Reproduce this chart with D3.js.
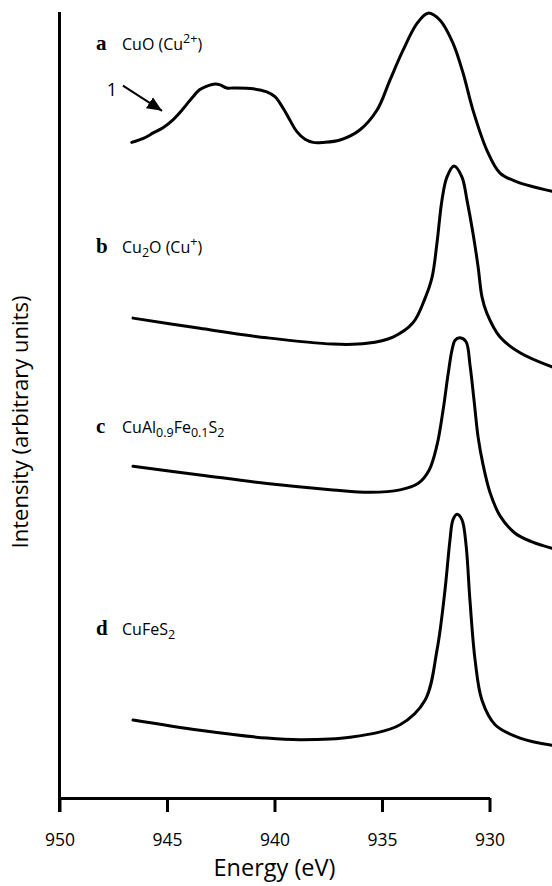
<!DOCTYPE html>
<html>
<head>
<meta charset="utf-8">
<script src="https://cdn.jsdelivr.net/npm/d3@7"></script>
<style>
body { margin: 0; background: #fff; }
text { font-family: "Open Sans", sans-serif; fill: #000; }
.tag { font-family: "Liberation Serif", serif; font-weight: bold; }
.spectrum { fill: none; stroke: #000; stroke-width: 3; stroke-linejoin: round; stroke-linecap: round; }
</style>
</head>
<body>
<svg id="chart" width="552" height="886"></svg>
<script>
// x axis ticks (binding energy, eV)
const energyTicks = [950, 945, 940, 935, 930];

// spectra: [energy (eV), intensity (arb. units, stacked)]
const cuO = [
    [946.64, 83.2], [946.1, 83.7], [945.64, 84.4], [945.17, 85.1], [944.71, 86.1],
    [944.24, 87.5], [943.85, 88.8], [943.47, 89.9], [943.08, 90.4], [942.77, 90.6],
    [942.53, 90.5], [942.22, 90.1], [941.92, 90.1], [940.99, 90.0], [940.36, 89.6],
    [939.98, 89.0], [939.59, 87.5], [939.28, 86.0], [938.97, 84.6], [938.58, 83.6],
    [938.2, 83.2], [937.73, 83.2], [936.95, 83.5], [936.02, 84.8], [935.23, 87.3],
    [934.63, 91.1], [934.02, 94.9], [933.37, 98.3], [932.86, 99.6], [932.3, 98.7],
    [931.7, 95.8], [931.23, 92.0], [930.77, 87.3], [930.12, 82.2], [929.51, 79.3],
    [928.72, 78.2], [927.09, 77.0]
];
const cu2O = [
    [946.58, 60.9], [943.47, 59.6], [940.35, 58.4], [937.28, 57.6], [935.7, 57.7],
    [934.49, 58.5], [933.56, 60.3], [933.0, 63.4], [932.67, 66.1], [932.44, 70.5],
    [932.21, 75.9], [931.98, 78.8], [931.65, 80.2], [931.28, 78.8], [931.05, 75.9],
    [930.77, 71.7], [930.53, 67.4], [930.35, 63.6], [930.12, 61.5], [929.51, 58.5],
    [928.58, 56.5], [927.09, 54.7]
];
const cuAlFeS2 = [
    [946.58, 42.1], [943.47, 41.0], [940.35, 39.9], [937.28, 39.1], [935.56, 38.8],
    [934.16, 39.1], [933.33, 39.9], [932.81, 41.6], [932.44, 44.8], [932.16, 49.2],
    [931.93, 53.7], [931.74, 56.9], [931.6, 58.1], [931.37, 58.4], [931.09, 57.9],
    [930.91, 55.0], [930.72, 50.5], [930.53, 45.8], [930.3, 42.3], [929.98, 38.8],
    [929.51, 35.8], [928.81, 33.6], [928.02, 32.5], [927.09, 31.7]
];
const cuFeS2 = [
    [946.58, 9.9], [943.47, 8.6], [940.35, 7.6], [938.81, 7.4], [936.49, 7.7],
    [934.16, 9.3], [933.0, 12.4], [932.44, 18.8], [932.07, 26.4], [931.84, 32.7],
    [931.7, 35.3], [931.51, 36.0], [931.28, 35.3], [931.09, 32.1], [930.91, 25.1],
    [930.67, 17.5], [930.35, 12.4], [929.74, 9.3], [928.58, 7.6], [927.09, 6.7]
];

const spectra = [cuO, cu2O, cuAlFeS2, cuFeS2];

// panel letters and compound names (sub = subscript, sup = superscript)
const tags = ['a', 'b', 'c', 'd'];
const names = [
    [{t: 'CuO (Cu'}, {t: '2+', sup: true}, {t: ')'}],
    [{t: 'Cu'}, {t: '2', sub: true}, {t: 'O (Cu'}, {t: '+', sup: true}, {t: ')'}],
    [{t: 'CuAl'}, {t: '0.9', sub: true}, {t: 'Fe'}, {t: '0.1', sub: true}, {t: 'S'}, {t: '2', sub: true}],
    [{t: 'CuFeS'}, {t: '2', sub: true}]
];

// annotation "1" arrow on the CuO satellite
const arrowFrom = [947.05, 90.4];
const arrowTo = [945.23, 87.2];

const svg = d3.select('#chart');

const x = d3.scaleLinear().domain([950, 930]).range([59.5, 489.5]);
const y = d3.scaleLinear().domain([0, 100]).range([798, 10]);

// y axis: bare line, no ticks
svg.append('line')
    .attr('x1', x(950)).attr('x2', x(950))
    .attr('y1', y(100) + 2).attr('y2', y(0) + 14)
    .attr('stroke', '#000').attr('stroke-width', 3);

const xAxis = svg.append('g')
    .attr('transform', 'translate(0,' + y(0) + ')')
    .call(d3.axisBottom(x).tickValues(energyTicks).tickSize(14).tickSizeOuter(0).tickPadding(22));
xAxis.select('.domain').attr('stroke-width', 3);
xAxis.selectAll('.tick line').attr('stroke-width', 3);
xAxis.selectAll('.tick text')
    .style('font-family', '"Open Sans", sans-serif')
    .attr('font-size', 17.5);

svg.append('text')
    .attr('x', (x(950) + x(930)) / 2)
    .attr('y', 876)
    .attr('text-anchor', 'middle')
    .attr('font-size', 23.5)
    .text('Energy (eV)');

svg.append('text')
    .attr('transform', 'translate(28,422)rotate(-90)')
    .attr('text-anchor', 'middle')
    .attr('font-size', 22)
    .text('Intensity (arbitrary units)');

const line = d3.line()
    .x(d => x(d[0]))
    .y(d => y(d[1]))
    .curve(d3.curveCatmullRom.alpha(0.5));

svg.selectAll('.spectrum')
    .data(spectra)
    .enter().append('path')
    .attr('class', 'spectrum')
    .attr('d', line);

// labels
const labelBaselines = [50, 253, 433, 635];

function richText(sel, parts) {
    let shift = 0;
    parts.forEach(p => {
        let target = p.sub ? 4 : (p.sup ? -7 : 0);
        let ts = sel.append('tspan').text(p.t).attr('dy', target - shift);
        if (p.sub || p.sup) ts.attr('font-size', 12.5);
        shift = target;
    });
}

tags.forEach((tag, i) => {
    svg.append('text')
        .attr('class', 'tag')
        .attr('x', 96)
        .attr('y', labelBaselines[i])
        .attr('font-size', 21)
        .text(tag);
    let t = svg.append('text')
        .attr('x', 122)
        .attr('y', labelBaselines[i])
        .attr('font-size', 16);
    richText(t, names[i]);
});

// arrow annotation
svg.append('defs').append('marker')
    .attr('id', 'head')
    .attr('viewBox', '0 0 10 10')
    .attr('refX', 10).attr('refY', 5)
    .attr('markerUnits', 'userSpaceOnUse')
    .attr('markerWidth', 15).attr('markerHeight', 15)
    .attr('orient', 'auto')
    .append('path')
    .attr('d', 'M0,0.7L10,5L0,9.3Z')
    .attr('fill', '#000');

svg.append('line')
    .attr('x1', x(arrowFrom[0])).attr('y1', y(arrowFrom[1]))
    .attr('x2', x(arrowTo[0])).attr('y2', y(arrowTo[1]))
    .attr('stroke', '#000').attr('stroke-width', 2)
    .attr('marker-end', 'url(#head)');

svg.append('text')
    .attr('x', x(arrowFrom[0]) - 11)
    .attr('y', y(arrowFrom[1]) + 10)
    .attr('text-anchor', 'middle')
    .attr('font-size', 18)
    .text('1');
</script>
</body>
</html>
